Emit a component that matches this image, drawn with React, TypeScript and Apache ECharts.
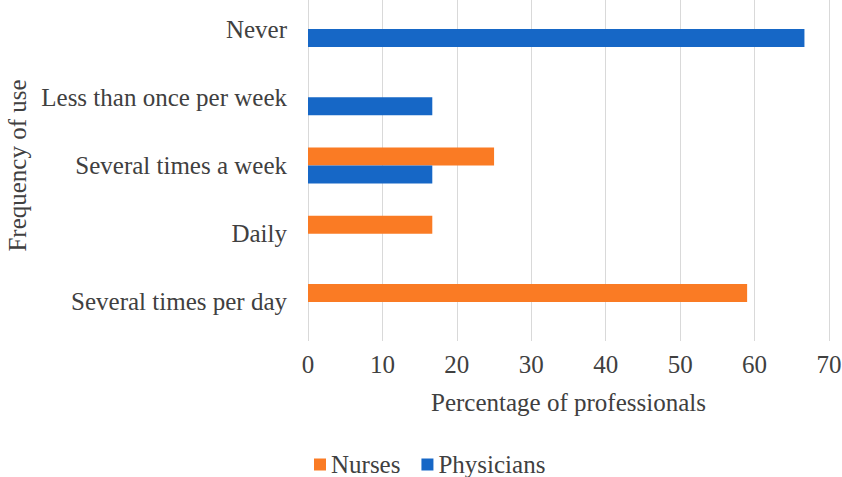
import React, { useEffect, useRef } from "react";
import * as echarts from "echarts";

const categories = [
  "Several times per day",
  "Daily",
  "Several times a week",
  "Less than once per week",
  "Never",
];
const nurses = [59, 16.7, 25, 0, 0];
const physicians = [0, 0, 16.7, 16.7, 66.7];
const xTicks = { min: 0, max: 70, interval: 10 };

const FONT = "Liberation Serif";
const TEXT = "#404040";
const FS = 25;

export default function App() {
  const ref = useRef<HTMLDivElement>(null);
  useEffect(() => {
    if (!ref.current) return;
    const chart = echarts.init(ref.current, undefined, { renderer: "svg" });
    chart.setOption({
      animation: false,
      textStyle: { fontFamily: FONT, color: TEXT },
      grid: { left: 308, right: 13, top: -5, height: 341, outerBoundsMode: "none", containLabel: false },
      legend: {
        data: ["Nurses", "Physicians"],
        left: 309,
        top: 447,
        itemWidth: 12,
        itemHeight: 12,
        itemGap: 21,
        icon: "rect",
        textStyle: { fontFamily: FONT, fontSize: FS, color: TEXT },
      },
      xAxis: {
        type: "value",
        min: xTicks.min,
        max: xTicks.max,
        interval: xTicks.interval,
        name: "Percentage of professionals",
        nameLocation: "middle",
        nameGap: 54,
        nameTextStyle: { fontFamily: FONT, fontSize: FS, color: TEXT },
        axisLine: { show: false },
        axisTick: { show: true, length: 5, lineStyle: { color: "#D9D9D9" } },
        axisLabel: { fontFamily: FONT, fontSize: FS, color: TEXT, margin: 16 },
        splitLine: { show: true, lineStyle: { color: "#D9D9D9", width: 1 } },
      },
      yAxis: {
        type: "category",
        data: categories,
        name: "Frequency of use",
        nameLocation: "middle",
        nameRotate: 90,
        nameGap: 269,
        nameTextStyle: { fontFamily: FONT, fontSize: FS, color: TEXT },
        axisLine: { show: false },
        axisTick: { show: false },
        axisLabel: { fontFamily: FONT, fontSize: FS, color: TEXT, margin: 21 },
        splitLine: { show: false },
      },
      series: [
        {
          name: "Nurses",
          type: "bar",
          data: nurses,
          barWidth: 18,
          barGap: "0%",
          itemStyle: { color: "#FA7B24" },
        },
        {
          name: "Physicians",
          type: "bar",
          data: physicians,
          barWidth: 18,
          barGap: "0%",
          itemStyle: { color: "#1667C6" },
        },
      ],
    });
    return () => chart.dispose();
  }, []);
  return (
    <div
      ref={ref}
      style={{ position: "fixed", left: 0, top: 0, width: 842, height: 477, background: "#fff" }}
    />
  );
}
